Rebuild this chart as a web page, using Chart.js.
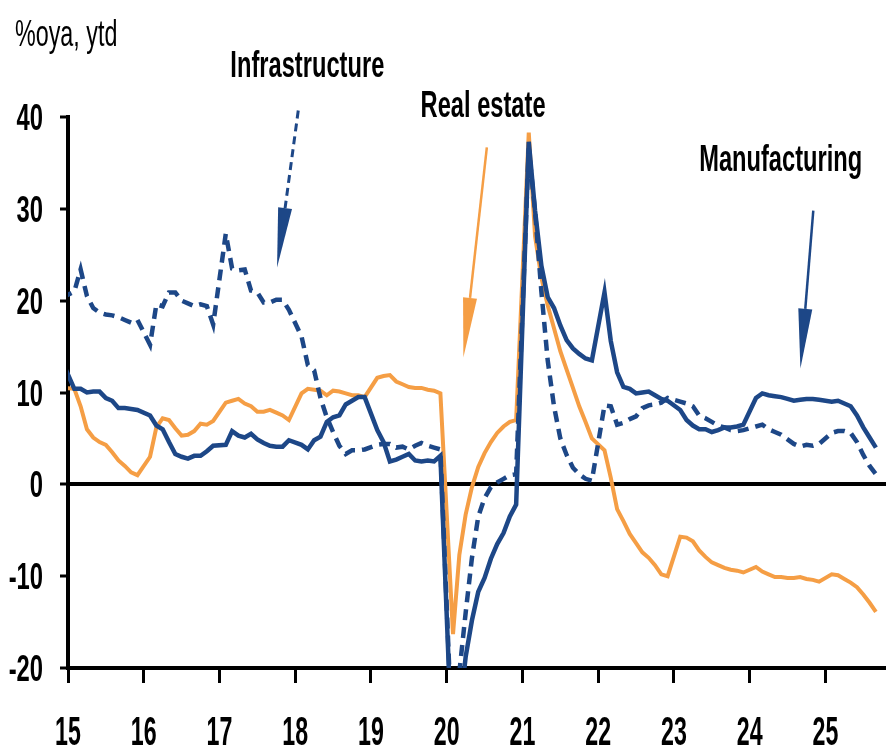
<!DOCTYPE html>
<html>
<head>
<meta charset="utf-8">
<script src="https://cdn.jsdelivr.net/npm/chart.js@4/dist/chart.umd.min.js"></script>
<style>
  body { margin: 0; background: #fff; }
  #fai-chart { display: block; }
</style>
</head>
<body>
<canvas id="fai-chart" width="886" height="752"></canvas>
<script>
// China FAI, %oya ytd. First point is Dec-14, then Feb..Dec each year (Jan-Feb is reported together), to Sep-25
const periods = ["2014-12"];
for (let yr = 2015; yr <= 2025; yr++) {
  for (let m = 2; m <= 12; m++) {
    if (yr === 2025 && m > 9) break;
    periods.push(yr + "-" + String(m).padStart(2, "0"));
  }
}

const manufacturing = [
  13.5,
  10.4, 10.4, 10.0, 10.1, 10.1, 9.4, 9.1, 8.3, 8.3, 8.2, 8.1,
  7.5, 6.4, 6.0, 4.6, 3.3, 3.0, 2.8, 3.1, 3.1, 3.6, 4.2,
  4.3, 5.8, 5.3, 5.1, 5.5, 4.9, 4.5, 4.2, 4.1, 4.1, 4.8,
  4.3, 3.8, 4.8, 5.2, 6.8, 7.3, 7.5, 8.7, 9.1, 9.5, 9.5,
  5.9, 4.6, 2.5, 2.7, 3.0, 3.3, 2.6, 2.5, 2.6, 2.5, 3.1,
  -31.5, -25.2, -18.8, -14.8, -11.7, -10.2, -8.1, -6.5, -5.3, -3.5, -2.2,
  37.3, 29.8, 23.8, 20.4, 19.2, 17.3, 15.7, 14.8, 14.2, 13.7, 13.5,
  20.9, 15.6, 12.2, 10.6, 10.4, 9.9, 10.0, 10.1, 9.7, 9.3, 9.1,
  8.1, 7.0, 6.4, 6.0, 6.0, 5.7, 5.9, 6.2, 6.2, 6.3, 6.5,
  9.4, 9.9, 9.7, 9.6, 9.5, 9.3, 9.1, 9.2, 9.3, 9.3, 9.2,
  9.0, 9.1, 8.8, 8.5, 7.5, 6.2, 5.1, 4.0
];

const realEstate = [
  10.5,
  10.4, 8.5, 6.0, 5.1, 4.6, 4.3, 3.5, 2.6, 2.0, 1.3, 1.0,
  3.0, 6.2, 7.2, 7.0, 6.1, 5.3, 5.4, 5.8, 6.6, 6.5, 6.9,
  8.9, 9.1, 9.3, 8.8, 8.5, 7.9, 7.9, 8.1, 7.8, 7.5, 7.0,
  9.9, 10.4, 10.3, 10.2, 9.7, 10.2, 10.1, 9.9, 9.7, 9.7, 9.5,
  11.6, 11.8, 11.9, 11.2, 10.9, 10.6, 10.5, 10.5, 10.3, 10.2, 9.9,
  -16.3, -7.7, -3.3, -0.3, 1.9, 3.4, 4.6, 5.6, 6.3, 6.8, 7.0,
  38.3, 27.0, 22.5, 19.5, 17.0, 14.5, 12.5, 10.5, 8.5, 6.8, 5.0,
  3.7, 0.7, -2.7, -4.0, -5.4, -6.4, -7.4, -8.0, -8.8, -9.8, -10.0,
  -5.7, -5.8, -6.2, -7.2, -7.9, -8.5, -8.8, -9.1, -9.3, -9.4, -9.6,
  -9.0, -9.5, -9.8, -10.1, -10.1, -10.2, -10.2, -10.1, -10.3, -10.4, -10.6,
  -9.8, -9.9, -10.3, -10.7, -11.2, -12.0, -12.9, -13.9
];

const infrastructure = [
  20.3,
  21.0, 23.4, 20.5, 19.2, 18.7, 18.5, 18.4, 18.2, 17.9, 17.6, 17.9,
  15.2, 19.6, 19.4, 20.9, 20.9, 20.0, 19.7, 19.4, 19.6, 19.4, 17.4,
  27.3, 23.5, 23.3, 23.4, 21.1, 20.9, 19.8, 19.8, 20.1, 20.1, 19.0,
  16.1, 13.0, 12.4, 9.4, 7.3, 5.7, 4.2, 3.3, 3.7, 3.7, 3.8,
  4.3, 4.4, 4.4, 4.0, 4.1, 3.8, 4.2, 4.5, 4.2, 4.0, 3.8,
  -30.3, -20.5, -14.0, -8.0, -3.5, -1.5, -0.3, 0.2, 0.6, 1.0, 1.1,
  36.6, 29.7, 21.0, 13.5, 8.5, 5.0, 3.2, 1.8, 1.1, 0.6, 0.4,
  8.6, 8.5, 6.5, 6.7, 7.1, 7.4, 8.3, 8.6, 8.7, 8.9, 9.4,
  9.0, 8.8, 8.5, 7.5, 7.2, 6.8, 6.4, 6.2, 5.9, 5.8, 5.9,
  6.3, 6.5, 6.0, 5.7, 5.4, 4.9, 4.4, 4.1, 4.3, 4.2, 4.4,
  5.6, 5.8, 5.8, 5.6, 4.6, 3.2, 2.0, 1.1
];

const yearTicks = [15, 16, 17, 18, 19, 20, 21, 22, 23, 24, 25];
const valueTicks = [-20, -10, 0, 10, 20, 30, 40];

const NAVY = "#1d4787";
const ORANGE = "#f59e45";
const FAMILY = "'Liberation Sans', Arial, sans-serif";

// year + month fraction, years shown as two digits
function toX(p) {
  const [yr, m] = p.split("-").map(Number);
  return yr - 2000 + (m - 1) / 12;
}
function points(values) {
  return values.map((v, i) => ({ x: toX(periods[i]), y: v }));
}

// labels and arrows, placed in data units
const labels = [
  { text: "Infrastructure", x: 18.16, y: 44.4 },
  { text: "Real estate", x: 20.48, y: 40.0 },
  { text: "Manufacturing", x: 24.41, y: 34.1 },
];
const arrows = [
  { from: [18.04, 40.7], to: [17.76, 23.6], color: NAVY, width: 3, dash: [8, 5] },
  { from: [20.53, 36.7], to: [20.22, 13.8], color: ORANGE, width: 2.5, dash: [] },
  { from: [24.84, 29.8], to: [24.67, 12.6], color: NAVY, width: 2.5, dash: [] },
];

// the source uses a condensed face; squeeze the text horizontally
function squashText(ctx, text, px, py, align, font, squeeze) {
  ctx.save();
  ctx.translate(px, py);
  ctx.scale(squeeze, 1);
  ctx.font = font;
  ctx.fillStyle = "#000";
  ctx.textAlign = align;
  ctx.textBaseline = "alphabetic";
  ctx.fillText(text, 0, 0);
  ctx.restore();
}

const annotate = {
  id: "annotate",
  afterDraw(chart) {
    const { ctx } = chart;
    const xs = chart.scales.x, ys = chart.scales.y;

    // tick labels from the scales' own ticks
    ys.ticks.forEach(t => {
      squashText(ctx, String(t.value), 43, ys.getPixelForValue(t.value) + 13, "right", "bold 36px " + FAMILY, 0.66);
    });
    xs.ticks.forEach(t => {
      squashText(ctx, String(t.value), xs.getPixelForValue(t.value), 745, "center", "bold 40px " + FAMILY, 0.58);
    });

    squashText(ctx, "%oya, ytd", 15, 46, "left", "37px " + FAMILY, 0.63);
    labels.forEach(l => {
      squashText(ctx, l.text, xs.getPixelForValue(l.x), ys.getPixelForValue(l.y), "center", "bold 37px " + FAMILY, 0.64);
    });

    arrows.forEach(a => {
      const x0 = xs.getPixelForValue(a.from[0]), y0 = ys.getPixelForValue(a.from[1]);
      const x1 = xs.getPixelForValue(a.to[0]), y1 = ys.getPixelForValue(a.to[1]);
      const len = Math.hypot(x1 - x0, y1 - y0);
      const ux = (x1 - x0) / len, uy = (y1 - y0) / len;
      const bx = x1 - ux * 60, by = y1 - uy * 60;
      ctx.save();
      ctx.strokeStyle = a.color;
      ctx.fillStyle = a.color;
      ctx.lineWidth = a.width;
      ctx.setLineDash(a.dash);
      ctx.beginPath();
      ctx.moveTo(x0, y0);
      ctx.lineTo(bx, by);
      ctx.stroke();
      ctx.setLineDash([]);
      ctx.beginPath();
      ctx.moveTo(x1, y1);
      ctx.lineTo(bx - uy * 7, by + ux * 7);
      ctx.lineTo(bx + uy * 7, by - ux * 7);
      ctx.closePath();
      ctx.fill();
      ctx.restore();
    });
  }
};

const ctx = document.getElementById("fai-chart");

const chart = new Chart(ctx, {
  type: "line",
  data: {
    datasets: [
      {
        label: "Infrastructure",
        data: points(infrastructure),
        borderColor: NAVY,
        borderWidth: 4.5,
        borderDash: [11, 7],
        pointRadius: 0,
        order: 0,
      },
      {
        label: "Manufacturing",
        data: points(manufacturing),
        borderColor: NAVY,
        borderWidth: 4.5,
        pointRadius: 0,
        order: 1,
      },
      {
        label: "Real estate",
        data: points(realEstate),
        borderColor: ORANGE,
        borderWidth: 4,
        pointRadius: 0,
        order: 2,
      },
    ],
  },
  options: {
    responsive: false,
    animation: false,
    layout: { padding: { top: 117, right: 0, bottom: 0, left: 0 } },
    plugins: {
      legend: { display: false },
      tooltip: { enabled: false },
    },
    scales: {
      x: {
        type: "linear",
        min: 15,
        max: 25.8,
        z: 1,
        afterFit: (s) => { s.height = 84; },
        afterBuildTicks: (s) => { s.ticks = yearTicks.map(v => ({ value: v })); },
        ticks: { display: false },
        grid: {
          drawOnChartArea: false,
          tickLength: 15,
          tickWidth: 3,
          tickColor: "#000",
        },
        border: { color: "#000", width: 4 },
      },
      y: {
        min: -20,
        max: 40,
        z: 1,
        afterFit: (s) => { s.width = 68; },
        afterBuildTicks: (s) => { s.ticks = valueTicks.map(v => ({ value: v })); },
        ticks: { display: false },
        grid: {
          color: (c) => (c.tick && c.tick.value === 0 ? "#000" : "rgba(0,0,0,0)"),
          lineWidth: (c) => (c.tick && c.tick.value === 0 ? 4 : 0),
          tickLength: 8,
          tickWidth: 3,
          tickColor: "#000",
        },
        border: { color: "#000", width: 4 },
      },
    },
  },
  plugins: [annotate],
});
</script>
</body>
</html>
